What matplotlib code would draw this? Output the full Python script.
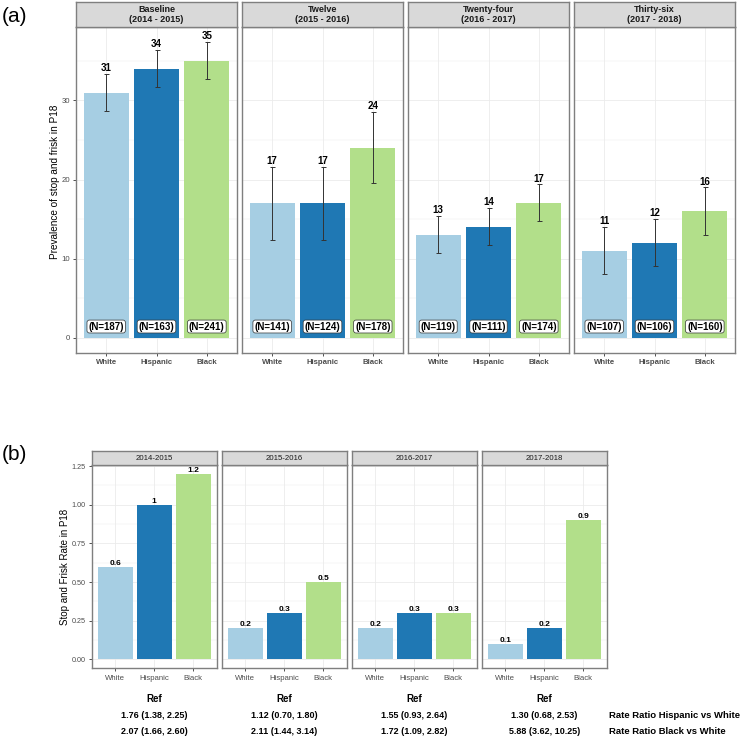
import matplotlib.pyplot as plt
from matplotlib.ticker import MultipleLocator

# -------------------- Data --------------------
GROUPS = ["White", "Hispanic", "Black"]
GROUP_COLORS = ["#A6CEE3", "#1F78B4", "#B2DF8A"]

PREV_PERIODS = ["Baseline\n(2014 - 2015)", "Twelve\n(2015 - 2016)",
                "Twenty-four\n(2016 - 2017)", "Thirty-six\n(2017 - 2018)"]
PREV_VALS = [[31, 34, 35], [17, 17, 24], [13, 14, 17], [11, 12, 16]]
PREV_LO = [[28.7, 31.7, 32.7], [12.4, 12.4, 19.5], [10.7, 11.7, 14.7], [8.0, 9.0, 13.0]]
PREV_HI = [[33.4, 36.4, 37.4], [21.6, 21.6, 28.6], [15.4, 16.4, 19.4], [14.0, 15.0, 19.0]]
PREV_N = [[187, 163, 241], [141, 124, 178], [119, 111, 174], [107, 106, 160]]

RATE_PERIODS = ["2014-2015", "2015-2016", "2016-2017", "2017-2018"]
RATE_VALS = [[0.6, 1.0, 1.2], [0.2, 0.3, 0.5], [0.2, 0.3, 0.3], [0.1, 0.2, 0.9]]

RR_HISP = ["1.76 (1.38, 2.25)", "1.12 (0.70, 1.80)", "1.55 (0.93, 2.64)", "1.30 (0.68, 2.53)"]
RR_BLACK = ["2.07 (1.66, 2.60)", "2.11 (1.44, 3.14)", "1.72 (1.09, 2.82)", "5.88 (3.62, 10.25)"]
RR_LABELS = ["Rate Ratio Hispanic vs White", "Rate Ratio Black vs White"]

# -------------------- Style --------------------
plt.rcParams.update({
    "font.family": ["Liberation Sans", "DejaVu Sans"],
    "axes.edgecolor": "#7F7F7F",
    "axes.linewidth": 1.0,
})

W, H = 746, 745
fig = plt.figure(figsize=(W / 100, H / 100), dpi=100)
fig.patch.set_facecolor("white")


def px_axes(left, top, right, bottom):
    return fig.add_axes([left / W, 1 - bottom / H, (right - left) / W, (bottom - top) / H])


def strip(left, top, right, bottom, label, bold):
    sa = px_axes(left, top, right, bottom)
    sa.set_facecolor("#D9D9D9")
    sa.set_xticks([])
    sa.set_yticks([])
    sa.text(0.5, 0.5, label, ha="center", va="center", transform=sa.transAxes,
            fontsize=6.5 if bold else 5.6, fontweight="bold" if bold else "normal",
            color="#1A1A1A", linespacing=1.0)


def style_panel(ax, first, bold_ticks, ylim, major, minor, ysize):
    ax.set_xlim(0.4, 3.6)
    ax.set_ylim(*ylim)
    ax.yaxis.set_major_locator(MultipleLocator(major))
    ax.yaxis.set_minor_locator(MultipleLocator(minor))
    ax.grid(True, which="major", color="#EBEBEB", linewidth=0.6, zorder=0)
    ax.grid(True, which="minor", axis="y", color="#EBEBEB", linewidth=0.3, zorder=0)
    ax.set_axisbelow(True)
    ax.set_xticks([1, 2, 3])
    ax.set_xticklabels(GROUPS, fontsize=5.6, color="#4D4D4D",
                       fontweight="bold" if bold_ticks else "normal")
    ax.tick_params(axis="x", length=2.5, width=0.6, color="#333333", pad=2)
    ax.tick_params(axis="y", which="minor", length=0)
    if first:
        ax.tick_params(axis="y", length=2.5, width=0.6, color="#333333", pad=2,
                       labelsize=ysize, labelcolor="#4D4D4D")
    else:
        ax.tick_params(axis="y", which="major", length=0, labelleft=False)


x = [1, 2, 3]

# -------------------- Panel (a) --------------------
a_lefts = [76, 242, 408, 574]
for i, period in enumerate(PREV_PERIODS):
    left = a_lefts[i]
    ax = px_axes(left, 27, left + 161, 353)
    ax.bar(x, PREV_VALS[i], width=0.9, color=GROUP_COLORS, zorder=2)
    lo = [v - l for v, l in zip(PREV_VALS[i], PREV_LO[i])]
    hi = [h - v for v, h in zip(PREV_VALS[i], PREV_HI[i])]
    ax.errorbar(x, PREV_VALS[i], yerr=[lo, hi], fmt="none", ecolor="#333333",
                elinewidth=0.7, capsize=1.8, capthick=0.7, zorder=3)
    for xi, v, top in zip(x, PREV_VALS[i], PREV_HI[i]):
        ax.annotate(f"{v}", xy=(xi, top), xytext=(0, 0.5), textcoords="offset points",
                    ha="center", va="bottom", fontsize=7, fontweight="bold", zorder=4)
    for xi, n in zip(x, PREV_N[i]):
        ax.text(xi, 1.4, f"(N={n})", ha="center", va="center", fontsize=7,
                fontweight="bold", zorder=4,
                bbox=dict(boxstyle="round,pad=0.15,rounding_size=0.25",
                          facecolor="white", edgecolor="#333333", linewidth=0.5))
    style_panel(ax, i == 0, True, (-1.95, 39.3), 10, 5, 5.6)
    strip(left, 2, left + 161, 27, period, True)

fig.text(55 / W, 1 - 182 / H, "Prevalence of stop and frisk in P18", rotation=90,
         ha="center", va="center", fontsize=7.2)
fig.text(2 / W, 1 - 16 / H, "(a)", ha="left", va="center", fontsize=15)

# -------------------- Panel (b) --------------------
b_lefts = [91.7, 221.7, 351.7, 481.7]
b_centers = []
for i, period in enumerate(RATE_PERIODS):
    left = b_lefts[i]
    ax = px_axes(left, 465.3, left + 125, 668.3)
    ax.bar(x, RATE_VALS[i], width=0.89, color=GROUP_COLORS, zorder=2)
    for xi, v in zip(x, RATE_VALS[i]):
        ax.text(xi, v, f"{v:g}", ha="center", va="bottom", fontsize=6,
                fontweight="bold", zorder=4)
    style_panel(ax, i == 0, False, (-0.058, 1.255), 0.25, 0.125, 5.2)
    if i == 0:
        ax.yaxis.set_major_formatter(lambda v, p: f"{v:.2f}")
    strip(left, 450.7, left + 125, 465.3, period, False)
    b_centers.append(left + 62.5)

fig.text(65 / W, 1 - 566.8 / H, "Stop and Frisk Rate in P18", rotation=90,
         ha="center", va="center", fontsize=7)
fig.text(2 / W, 1 - 455 / H, "(b)", ha="left", va="center", fontsize=15)

# Rate ratio table under panel (b)
for cx, h_txt, b_txt in zip(b_centers, RR_HISP, RR_BLACK):
    fig.text(cx / W, 1 - 699 / H, "Ref", ha="center", va="center",
             fontsize=7, fontweight="bold")
    fig.text(cx / W, 1 - 715.3 / H, h_txt, ha="center", va="center",
             fontsize=6.5, fontweight="bold")
    fig.text(cx / W, 1 - 731.3 / H, b_txt, ha="center", va="center",
             fontsize=6.5, fontweight="bold")

fig.text(609 / W, 1 - 715.3 / H, RR_LABELS[0], ha="left", va="center",
         fontsize=6.8, fontweight="bold")
fig.text(609 / W, 1 - 731.3 / H, RR_LABELS[1], ha="left", va="center",
         fontsize=6.8, fontweight="bold")

fig.savefig("out.png", dpi=100)
